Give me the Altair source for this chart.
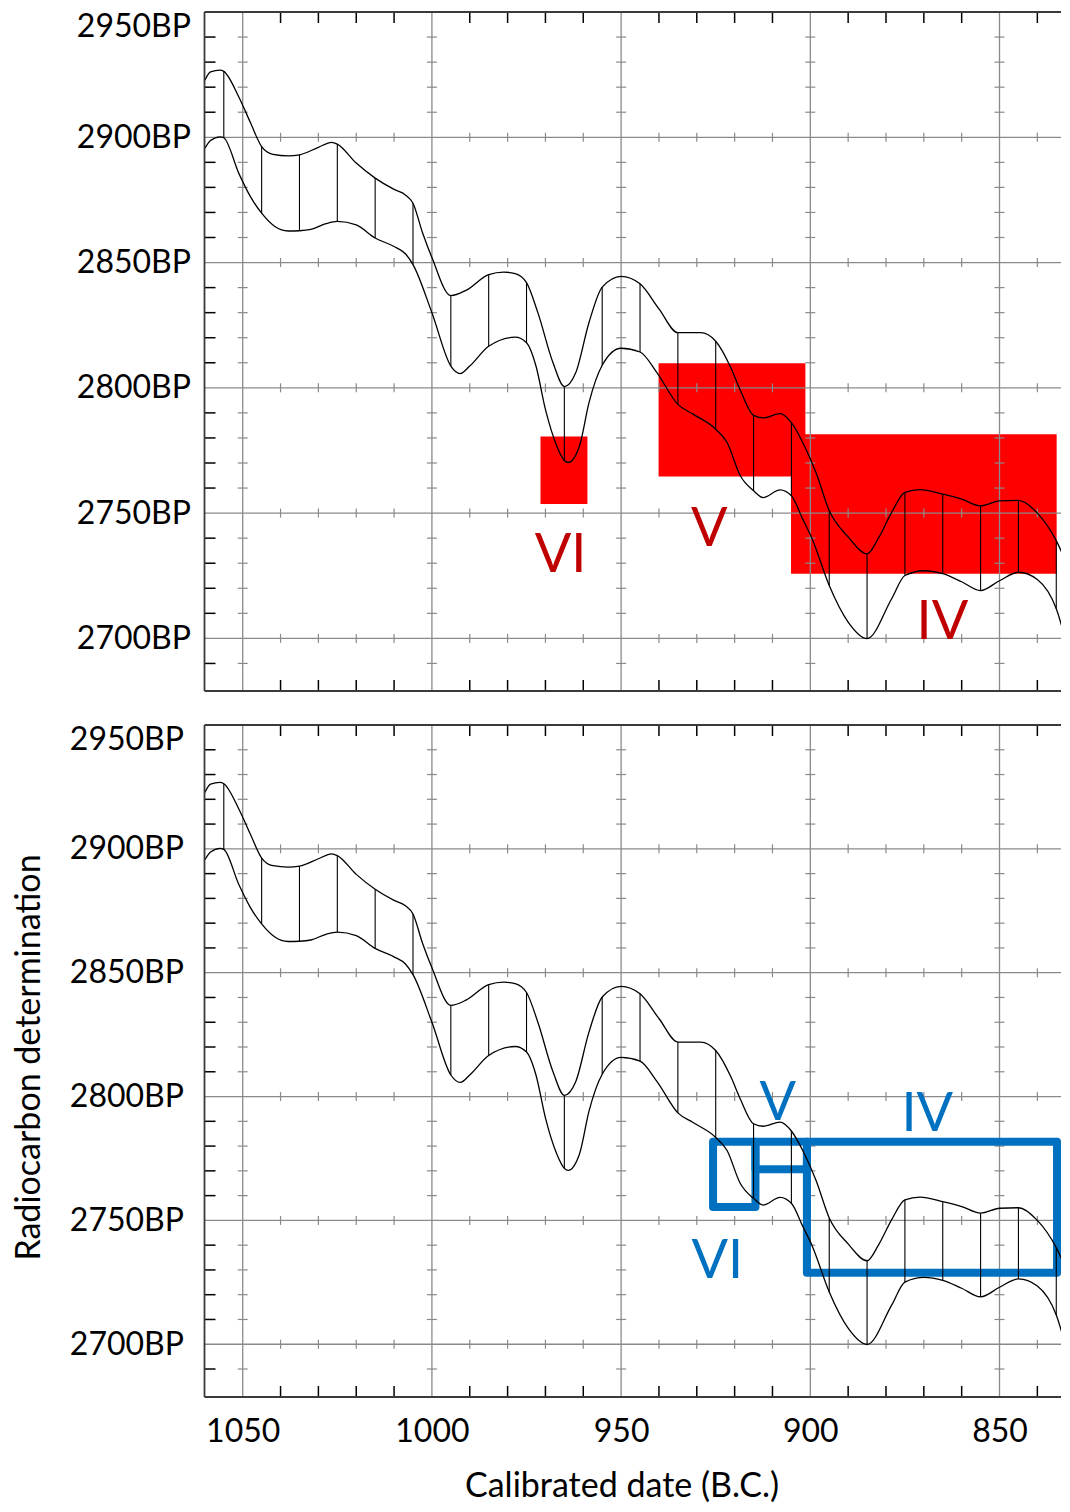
import altair as alt
import pandas as pd

# ---------------- data ----------------
upper_years = [1060, 1058.5, 1056, 1055, 1051, 1048, 1045, 1042, 1038, 1035, 1030, 1026.5, 1025, 1020,
               1015, 1010, 1007, 1005, 1002.5, 1000, 995, 991, 985, 981, 978, 975, 972, 968, 965, 962,
               958.5, 955, 950, 945, 940, 935, 929, 925, 921, 918.5, 915, 912.5, 908, 905, 902, 898.5,
               895, 890, 885, 882, 878.5, 875, 871, 865, 860, 855, 850, 845, 840, 835, 831]
upper_bp = [2922.8, 2926.1, 2926.8, 2926.3, 2916, 2906, 2896.3, 2893.2, 2892.6, 2893, 2896, 2898, 2897.3, 2889.7,
            2883.7, 2879.2, 2877, 2873.7, 2862, 2852, 2836.8, 2838.9, 2845.2, 2846.2, 2845.6, 2842, 2830, 2810, 2800.5, 2806,
            2826, 2840.2, 2844.5, 2841.5, 2831.5, 2822, 2822, 2818.6, 2808, 2799, 2789, 2788, 2789.7, 2786.1, 2778.2, 2766.2,
            2751, 2740.5, 2733.7, 2740, 2750.3, 2758.3, 2759.4, 2757.6, 2755.6, 2752.9, 2754.9, 2755.1, 2750, 2739, 2725]

lower_years = [1060, 1058.5, 1056, 1055, 1051, 1048, 1045, 1041.5, 1038, 1035, 1032, 1028, 1025, 1020,
               1015, 1010, 1007, 1005, 1000, 995, 992.5, 990, 985, 978, 975, 972.5, 970, 967, 965, 964,
               961, 958.5, 955, 950, 945, 940.5, 935, 931, 925, 922, 918.5, 915, 912.5, 908, 905, 902,
               899.5, 895, 890, 885, 878.5, 875, 870, 865, 860, 855, 850, 845, 840, 835, 831]
lower_bp = [2895.6, 2898.7, 2900.2, 2899.8, 2885.5, 2876.4, 2869.7, 2864.4, 2862.6, 2862.7, 2863.2, 2865.5, 2866.4, 2865,
            2859.8, 2856.4, 2853.5, 2849.2, 2830, 2808.7, 2805.7, 2808.7, 2816.6, 2820.2, 2818, 2808.7, 2791.4, 2776.8, 2771, 2770.2,
            2776.8, 2794, 2809, 2815.8, 2814.3, 2806, 2793.4, 2789.5, 2783.5, 2778.2, 2764.9, 2758.9, 2756.2, 2759.3, 2756.9, 2747.6,
            2739.7, 2721.1, 2706.5, 2699.9, 2715.8, 2725.1, 2727, 2725.8, 2722.6, 2719.1, 2723, 2726.4, 2723.5, 2711.8, 2690]

hatch_years = [1055, 1045, 1035, 1025, 1015, 1005, 995, 985, 975, 965, 955, 945, 935, 925,
               915, 905, 895, 885, 875, 865, 855, 845, 835]

# red blocks (top panel)
red_names = ["VI", "V", "IV"]
red_x1 = [971.3, 940.1, 905.1]
red_x2 = [958.9, 901.3, 834.9]
red_y1 = [2753.6, 2764.6, 2725.8]
red_y2 = [2780.6, 2809.8, 2781.5]
red_lab_year = [966.0, 926.7, 865.1]
red_lab_bp = [2726.4, 2737.0, 2699.9]

# blue boxes (bottom panel)
blue_names = ["VI", "V", "IV"]
blue_x1 = [925.7, 914.5, 900.9]
blue_x2 = [914.5, 900.9, 834.8]
blue_y1 = [2755.4, 2770.6, 2728.9]
blue_y2 = [2781.7, 2781.7, 2781.7]
blue_lab_year = [924.6, 908.6, 869.1]
blue_lab_bp = [2726.7, 2790.4, 2786.1]

# ticks / labels
x_major = [1050, 1000, 950, 900, 850]
x_minor = [1040, 1030, 1020, 1010, 990, 980, 970, 960, 940, 930, 920, 910, 890, 880, 870, 860, 840]
y_major = [2700, 2750, 2800, 2850, 2900]
y_labels = [2700, 2750, 2800, 2850, 2900, 2950]
y_minor = [2690, 2710, 2720, 2730, 2740, 2760, 2770, 2780, 2790, 2810, 2820, 2830, 2840,
           2860, 2870, 2880, 2890, 2910, 2920, 2930, 2940]

# ---------------- frames ----------------
up_df = pd.DataFrame({"year": upper_years, "bp": upper_bp})
lo_df = pd.DataFrame({"year": lower_years, "bp": lower_bp})
assert len(upper_years) == len(upper_bp) and len(lower_years) == len(lower_bp)
umap = dict(zip(upper_years, upper_bp))
lmap = dict(zip(lower_years, lower_bp))
hatch_df = pd.DataFrame({"year": hatch_years,
                         "lo": [lmap[y] for y in hatch_years],
                         "hi": [umap[y] for y in hatch_years]})
red_df = pd.DataFrame({"x1": red_x1, "x2": red_x2, "y1": red_y1, "y2": red_y2})
red_lab = pd.DataFrame({"year": red_lab_year, "bp": red_lab_bp, "label": red_names})
blue_df = pd.DataFrame({"x1": blue_x1, "x2": blue_x2, "y1": blue_y1, "y2": blue_y2})
blue_lab = pd.DataFrame({"year": blue_lab_year, "bp": blue_lab_bp, "label": blue_names})

gridx_df = pd.DataFrame({"year": x_major})
gridy_df = pd.DataFrame({"bp": y_major})
cross_h_df = pd.DataFrame([{"year": g, "bp": m} for g in x_major for m in y_minor])
cross_v_df = pd.DataFrame([{"year": m, "bp": g} for g in y_major for m in x_minor])
xminor_df = pd.DataFrame({"year": x_minor})
yminor_df = pd.DataFrame({"bp": y_minor})
one = pd.DataFrame({"a": [0]})

W = 856.5
XDOM = [1060.1, 833.75]
GRID = "#8a8a8a"
BORDER = "#3a3a3a"
FONT = "Lato"


def panel(H, ydom, xaxis, yaxis, top):
    xs = alt.Scale(domain=XDOM, nice=False, zero=False)
    ys = alt.Scale(domain=ydom, nice=False, zero=False)

    def X(f):
        return alt.X(f, type="quantitative", scale=xs, axis=xaxis)

    def Y(f):
        return alt.Y(f, type="quantitative", scale=ys, axis=yaxis)

    layers = []
    if top:
        layers.append(alt.Chart(red_df).mark_rect(color="#FF0000").encode(
            x=X("x1"), x2="x2", y=Y("y1"), y2="y2"))
    layers += [
        alt.Chart(gridx_df).mark_rule(color=GRID, strokeWidth=1.3).encode(
            x=X("year"), y=alt.value(0), y2=alt.value(H)),
        alt.Chart(gridy_df).mark_rule(color=GRID, strokeWidth=1.3).encode(
            y=Y("bp"), x=alt.value(0), x2=alt.value(W)),
        alt.Chart(cross_h_df).mark_rule(color=GRID, strokeWidth=1.2, xOffset=-5, x2Offset=5).encode(
            x=X("year"), x2="year", y=Y("bp")),
        alt.Chart(cross_v_df).mark_rule(color=GRID, strokeWidth=1.2, yOffset=-4.5, y2Offset=4.5).encode(
            x=X("year"), y=Y("bp"), y2="bp"),
        alt.Chart(yminor_df).mark_rule(color="black", strokeWidth=1.5).encode(
            y=Y("bp"), x=alt.value(0), x2=alt.value(11)),
        alt.Chart(xminor_df).mark_rule(color="black", strokeWidth=1.5).encode(
            x=X("year"), y=alt.value(0), y2=alt.value(11)),
        alt.Chart(xminor_df).mark_rule(color="black", strokeWidth=1.5).encode(
            x=X("year"), y=alt.value(H - 11), y2=alt.value(H)),
    ]
    if not top:
        layers.append(alt.Chart(blue_df).mark_rect(filled=False, color="#0070C0", strokeWidth=8,
                                                   strokeJoin="round").encode(
            x=X("x1"), x2="x2", y=Y("y1"), y2="y2"))
    layers += [
        alt.Chart(up_df).mark_line(color="black", strokeWidth=1.3, interpolate="monotone", clip=True).encode(
            x=X("year"), y=Y("bp")),
        alt.Chart(lo_df).mark_line(color="black", strokeWidth=1.3, interpolate="monotone", clip=True).encode(
            x=X("year"), y=Y("bp")),
        alt.Chart(hatch_df).mark_rule(color="black", strokeWidth=1.1).encode(
            x=X("year"), y=Y("lo"), y2="hi"),
        alt.Chart(one).mark_rule(color=BORDER, strokeWidth=1.8).encode(
            x=alt.value(0), y=alt.value(0), y2=alt.value(H)),
        alt.Chart(one).mark_rule(color=BORDER, strokeWidth=1.8).encode(
            x=alt.value(0), x2=alt.value(W), y=alt.value(0)),
        alt.Chart(one).mark_rule(color=BORDER, strokeWidth=1.8).encode(
            x=alt.value(0), x2=alt.value(W), y=alt.value(H)),
    ]
    if top:
        layers.append(alt.Chart(red_lab).mark_text(font=FONT, fontSize=54, color="#C00000",
                                                   baseline="alphabetic", align="center").encode(
            x=X("year"), y=Y("bp"), text="label:N"))
    else:
        layers.append(alt.Chart(blue_lab).mark_text(font=FONT, fontSize=54, color="#0070C0",
                                                    baseline="alphabetic", align="center").encode(
            x=X("year"), y=Y("bp"), text="label:N"))
    return alt.layer(*layers).properties(width=W, height=H)


yaxis_common = dict(values=y_labels, labelExpr="datum.value + 'BP'", grid=False, ticks=False,
                    tickSize=0, domain=False, labelFont=FONT, labelFontSize=32, labelColor="black",
                    labelFlush=True, labelFlushOffset=1)

top_y = alt.Axis(title=None, labelPadding=14, **yaxis_common)
bot_y = alt.Axis(title="Radiocarbon determination", labelPadding=21, titleFont=FONT, titleFontSize=34,
                 titleFontWeight="normal", titleColor="black", titleX=-165, titleY=332,
                 titleAlign="center", titleBaseline="alphabetic", titleAngle=270, **yaxis_common)
bot_x = alt.Axis(title="Calibrated date (B.C.)", values=x_major, format="d", grid=False, ticks=False,
                 tickSize=0, domain=False, labelFont=FONT, labelFontSize=32, labelColor="black",
                 labelPadding=19, labelFlush=False, titleFont=FONT, titleFontSize=34,
                 titleFontWeight="normal", titleColor="black", titleX=417, titleY=99,
                 titleAlign="center", titleBaseline="alphabetic")

top = panel(679, [2679, 2950], None, top_y, True)
bottom = panel(672, [2678.7, 2950], bot_x, bot_y, False)

chart = alt.vconcat(top, bottom, spacing=31).resolve_scale(x="independent", y="independent").properties(
    padding={"left": 4.5, "top": 2, "right": 0, "bottom": 0}
).configure_view(stroke=None)

chart.save("out.html", embed_options={"renderer": "svg", "actions": False})
